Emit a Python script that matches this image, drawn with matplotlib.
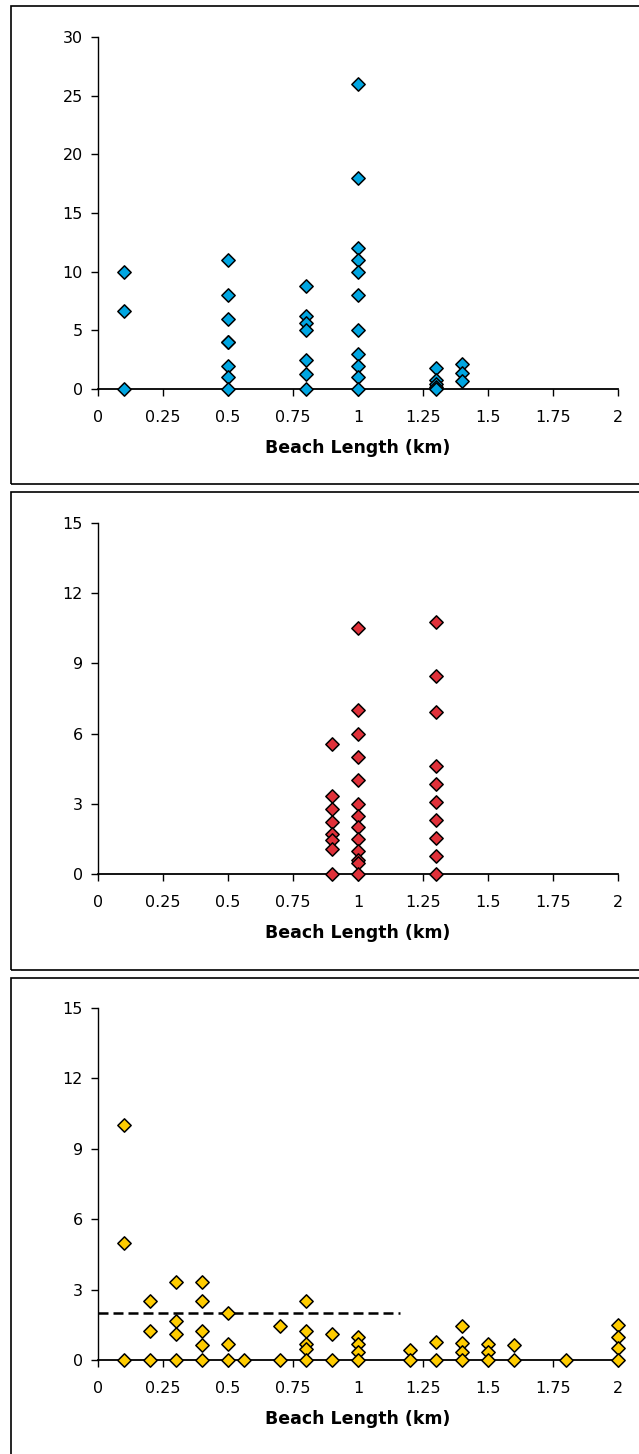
import matplotlib
matplotlib.use("Agg")
import matplotlib.pyplot as plt
from matplotlib.patches import Rectangle

# panel 1 (blue)
blue_x = [0.1, 0.1, 0.1,
          0.5, 0.5, 0.5, 0.5, 0.5, 0.5, 0.5, 0.5,
          0.8, 0.8, 0.8, 0.8, 0.8, 0.8, 0.8,
          1.0, 1.0, 1.0, 1.0, 1.0, 1.0, 1.0, 1.0, 1.0, 1.0, 1.0,
          1.3, 1.3, 1.3, 1.3, 1.3,
          1.4, 1.4, 1.4]
blue_y = [10, 6.67, 0,
          11, 8, 6, 4, 2, 1, 0, 4,
          8.75, 6.25, 5.6, 5, 2.5, 1.25, 0,
          26, 18, 12, 11, 10, 8, 5, 3, 2, 1, 0,
          1.8, 0.75, 0.4, 0.2, 0,
          2.15, 1.4, 0.7]

# panel 2 (red)
red_x = [0.9] * 8 + [1.0] * 13 + [1.3] * 10
red_y = [5.56, 3.33, 2.78, 2.22, 1.7, 1.46, 1.08, 0,
         10.5, 7, 6, 5, 4, 3, 2.5, 2, 1.5, 1, 0.6, 0.45, 0,
         10.77, 8.46, 6.92, 4.62, 3.85, 3.08, 2.31, 1.54, 0.77, 0]

# panel 3 (yellow)
yel_x = [0.1, 0.1, 0.1,
         0.2, 0.2, 0.2,
         0.3, 0.3, 0.3, 0.3,
         0.4, 0.4, 0.4, 0.4, 0.4,
         0.5, 0.5, 0.5,
         0.56,
         0.7, 0.7,
         0.8, 0.8, 0.8, 0.8, 0.8,
         0.9, 0.9,
         1.0, 1.0, 1.0, 1.0,
         1.2, 1.2,
         1.3, 1.3,
         1.4, 1.4, 1.4, 1.4,
         1.5, 1.5, 1.5,
         1.6, 1.6,
         1.8,
         2.0, 2.0, 2.0, 2.0]
yel_y = [10, 5, 0,
         2.5, 1.25, 0,
         3.33, 1.67, 1.1, 0,
         3.33, 2.5, 1.25, 0.625, 0,
         2.0, 0.67, 0,
         0,
         1.43, 0,
         2.5, 1.25, 0.67, 0.45, 0,
         1.1, 0,
         1.0, 0.67, 0.33, 0,
         0.43, 0,
         0.77, 0,
         1.43, 0.72, 0.36, 0,
         0.67, 0.33, 0,
         0.63, 0,
         0,
         1.5, 1.0, 0.5, 0]
dash_x = [0, 1.16]
dash_y = [2, 2]

xticks = [0, 0.25, 0.5, 0.75, 1, 1.25, 1.5, 1.75, 2]
xtick_labels = ["0", "0.25", "0.5", "0.75", "1", "1.25", "1.5", "1.75", "2"]

W, H = 639, 1454
fig = plt.figure(figsize=(W / 100, H / 100), dpi=100)
plt.rcParams['font.family'] = ['DejaVu Sans']

# panel frames (pixel coords from top)
for top, bot in [(6, 484), (492, 970), (978, 1470)]:
    fig.patches.append(Rectangle((11 / W, 1 - bot / H), (650 - 11) / W, (bot - top) / H,
                                 transform=fig.transFigure, fill=False,
                                 edgecolor="black", linewidth=1.2))

panels = [
    (37, 389, blue_x, blue_y, "#00A6E2", 30, [0, 5, 10, 15, 20, 25, 30]),
    (523, 874, red_x, red_y, "#E0313A", 15, [0, 3, 6, 9, 12, 15]),
    (1008, 1360, yel_x, yel_y, "#FFCC00", 15, [0, 3, 6, 9, 12, 15]),
]

left, right = 98, 618
for i, (top, bot, xs, ys, color, ymax, yticks) in enumerate(panels):
    ax = fig.add_axes([left / W, 1 - bot / H, (right - left) / W, (bot - top) / H])
    ax.scatter(xs, ys, marker="D", s=46, c=color, edgecolors="black",
               linewidths=1.1, zorder=3, clip_on=False)
    if i == 2:
        ax.plot(dash_x, dash_y, color="black", linestyle=(0, (4, 2)), linewidth=1.8, zorder=2)
    ax.set_xlim(0, 2)
    ax.set_ylim(0, ymax)
    ax.set_xticks(xticks)
    ax.set_xticklabels(xtick_labels)
    ax.set_yticks(yticks)
    ax.spines["top"].set_visible(False)
    ax.spines["right"].set_visible(False)
    ax.spines["left"].set_linewidth(1.0)
    ax.spines["bottom"].set_linewidth(1.3)
    ax.tick_params(axis="both", direction="out", length=5, width=1.0,
                   labelsize=11.5, pad=6, colors="black")
    ax.tick_params(axis="x", pad=10)
    ax.set_xlabel("Beach Length (km)", fontsize=12.5, fontweight="bold", labelpad=10)
    ax.set_facecolor("none")

fig.savefig("out.png", dpi=100)
